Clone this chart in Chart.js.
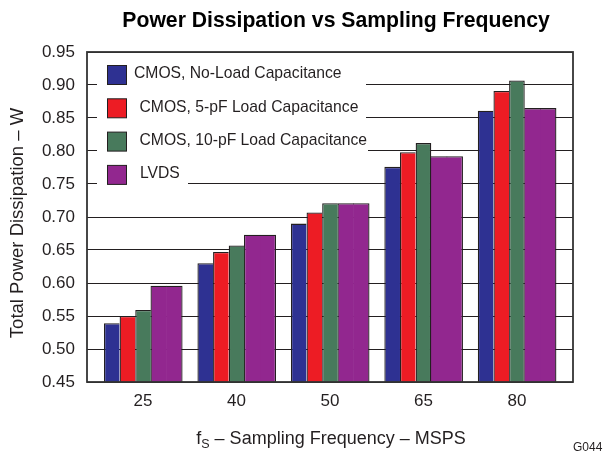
<!DOCTYPE html>
<html>
<head>
<meta charset="utf-8">
<script src="https://cdn.jsdelivr.net/npm/chart.js@4.4.1/dist/chart.umd.min.js"></script>
<style>
html,body{margin:0;padding:0;background:#ffffff;}
#wrap{width:607px;height:452px;position:relative;}
</style>
</head>
<body>
<div id="wrap"><canvas id="c"></canvas></div>
<script>
// ---- data ----
const categories = ['25', '40', '50', '65', '80'];
const seriesNames = ['CMOS, No-Load Capacitance', 'CMOS, 5-pF Load Capacitance', 'CMOS, 10-pF Load Capacitance', 'LVDS'];
const cmosNoLoad = [0.539, 0.630, 0.690, 0.776, 0.861];
const cmos5pF    = [0.550, 0.647, 0.707, 0.798, 0.891];
const cmos10pF   = [0.559, 0.657, 0.721, 0.812, 0.907];
const lvds       = [0.596, 0.673, 0.721, 0.792, 0.865];
const yTickValues = [0.45, 0.50, 0.55, 0.60, 0.65, 0.70, 0.75, 0.80, 0.85, 0.90, 0.95];

// ---- styles ----
const FONT = '"Liberation Sans", Arial, Helvetica, sans-serif';
const INK = '#231f20';
const seriesColors = ['#2e3192', '#ed1c24', '#487a5c', '#92278f'];
const BW = 1.3;

// LVDS bars are twice as wide: drawn as two adjacent halves (slots 3 and 4)
const seriesList = [cmosNoLoad, cmos5pF, cmos10pF, lvds];
const slotSeries = [0, 1, 2, 3, 3];
const slotValues = slotSeries.map(s => seriesList[s]);

function slotBorder(slot, i) {
  const v = slotValues;
  let left, right;
  if (slot === 4) left = 0;
  else if (slot === 0) left = BW;
  else left = v[slot][i] >= v[slot - 1][i] ? BW : 0;
  if (slot === 4) right = BW;
  else if (slot === 3) right = 0;
  else right = v[slot][i] > v[slot + 1][i] ? BW : 0;
  return { top: BW, left: left, right: right, bottom: 0 };
}

const datasets = slotSeries.map((s, slot) => ({
  label: seriesNames[s],
  data: slotValues[slot].map((y, i) => ({ x: i, y: y })),
  backgroundColor: seriesColors[s],
  borderColor: INK,
  borderWidth: (ctx) => slotBorder(slot, ctx.dataIndex),
  borderSkipped: 'start',
  categoryPercentage: 0.837,
  barPercentage: slot >= 3 ? 1.05 : 1.0,   // tiny overlap so the two LVDS halves join seamlessly
  inflateAmount: 0
}));

const decor = {
  id: 'decor',
  afterDatasetsDraw(chart) {
    const ctx = chart.ctx;
    const ca = chart.chartArea;
    ctx.save();
    // plot frame
    ctx.strokeStyle = '#333333';
    ctx.lineWidth = 1.8;
    ctx.strokeRect(ca.left, ca.top, ca.right - ca.left, ca.bottom - ca.top);

    // legend inside plot
    const rowY0 = 75, rowGap = 33.3;
    const textX = [134, 139.5, 139.5, 140];
    const maskRight = [366, 366, 368, 188];
    ctx.font = '15.7px ' + FONT;
    ctx.textBaseline = 'middle';
    ctx.textAlign = 'left';
    seriesNames.forEach((name, k) => {
      const y = rowY0 + k * rowGap;
      ctx.fillStyle = '#ffffff';
      ctx.fillRect(97, y - 12, maskRight[k] - 97, 25);
      ctx.fillStyle = seriesColors[k];
      ctx.fillRect(107.5, y - 9.5, 19, 19);
      ctx.strokeStyle = INK;
      ctx.lineWidth = 1;
      ctx.strokeRect(107.5, y - 9.5, 19, 19);
      ctx.fillStyle = INK;
      ctx.fillText(name, textX[k], y - 1);
    });

    // chart title
    ctx.fillStyle = '#000000';
    ctx.font = 'bold 21.2px ' + FONT;
    ctx.textAlign = 'center';
    ctx.textBaseline = 'alphabetic';
    ctx.fillText('Power Dissipation vs Sampling Frequency', 336, 26.5);

    // y axis title
    ctx.fillStyle = INK;
    ctx.save();
    ctx.translate(23, 223);
    ctx.rotate(-Math.PI / 2);
    ctx.font = '18.5px ' + FONT;
    ctx.textAlign = 'center';
    ctx.fillText('Total Power Dissipation \u2013 W', 0, 0);
    ctx.restore();

    // x axis title with subscript
    const mainFont = '18px ' + FONT, subFont = '12.5px ' + FONT;
    const p1 = 'f', p2 = 'S', p3 = ' \u2013 Sampling Frequency \u2013 MSPS';
    ctx.font = mainFont; const w1 = ctx.measureText(p1).width, w3 = ctx.measureText(p3).width;
    ctx.font = subFont; const w2 = ctx.measureText(p2).width;
    let x = 331 - (w1 + w2 + w3) / 2;
    const base = 444;
    ctx.textAlign = 'left';
    ctx.font = mainFont; ctx.fillText(p1, x, base); x += w1;
    ctx.font = subFont; ctx.fillText(p2, x, base + 4); x += w2;
    ctx.font = mainFont; ctx.fillText(p3, x, base);

    // figure id
    ctx.font = '12px ' + FONT;
    ctx.fillText('G044', 573, 451);
    ctx.restore();
  }
};

Chart.defaults.font.family = FONT;
Chart.defaults.color = INK;

new Chart(document.getElementById('c'), {
  type: 'bar',
  data: { datasets: datasets },
  options: {
    responsive: true,
    maintainAspectRatio: false,
    animation: false,
    layout: { padding: { left: 0, right: 34, top: 52, bottom: 0 } },
    plugins: { legend: { display: false }, title: { display: false }, tooltip: { enabled: false } },
    scales: {
      x: {
        type: 'linear',
        offset: false,
        bounds: 'data',
        min: -0.6,
        max: categories.length - 1 + 0.6,
        afterBuildTicks: (scale) => { scale.ticks = categories.map((c, i) => ({ value: i })); },
        afterFit: (scale) => { scale.height = 70; },
        grid: { display: false, drawTicks: false, offset: false },
        border: { display: false },
        ticks: {
          autoSkip: false,
          maxRotation: 0,
          padding: 9,
          font: { size: 17 },
          color: INK,
          callback: (v) => categories[Math.round(v)]
        }
      },
      y: {
        type: 'linear',
        min: yTickValues[0],
        max: yTickValues[yTickValues.length - 1],
        afterBuildTicks: (scale) => { scale.ticks = yTickValues.map(v => ({ value: v })); },
        afterFit: (scale) => { scale.width = 87; },
        grid: { color: INK, lineWidth: 1, drawTicks: false },
        border: { display: false },
        ticks: {
          padding: 12,
          font: { size: 17 },
          color: INK,
          callback: (v) => Number(v).toFixed(2)
        }
      }
    }
  },
  plugins: [decor]
});
</script>
</body>
</html>
